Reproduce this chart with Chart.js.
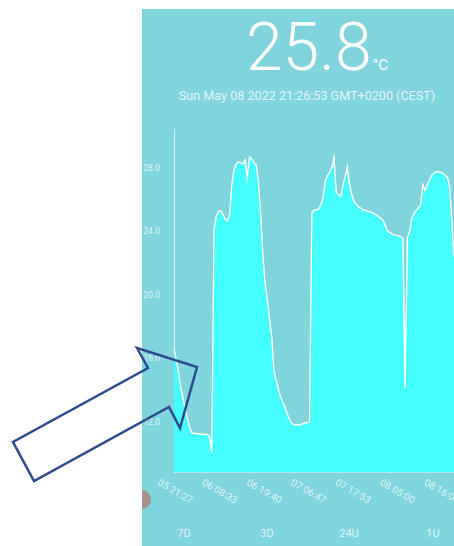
<!DOCTYPE html>
<html>
<head>
<meta charset="utf-8">
<script src="https://cdn.jsdelivr.net/npm/chart.js@4.4.0/dist/chart.umd.min.js"></script>
<style>
  html, body { margin: 0; padding: 0; width: 454px; height: 546px; overflow: hidden; background: #fff; font-family: Roboto, sans-serif; }
  #panel { position: absolute; left: 142px; top: 9px; width: 312px; height: 537px; background: #80d4dc; overflow: hidden; }
  #temp { position: absolute; left: 104px; top: 6px; font-size: 66px; line-height: 1; font-weight: 300; color: #fff; white-space: nowrap; }
  #temp small { font-size: 15px; font-weight: 400; margin-left: 1px; }
  #date { position: absolute; left: 0; width: 330px; top: 79px; text-align: center; font-size: 12.6px; color: rgba(255,255,255,0.8); white-space: nowrap; }
  #chartBox { position: absolute; left: 0; top: 101px; width: 312px; height: 410px; }
  .btn { position: absolute; top: 518px; width: 60px; margin-left: -30px; text-align: center; font-size: 11px; color: rgba(255,255,255,0.75); }
  #dot { position: absolute; left: -10px; top: 481px; width: 19px; height: 19px; border-radius: 50%; background: #a8908c; }
  #arrow { position: absolute; left: 0; top: 0; pointer-events: none; }
</style>
</head>
<body>
<div id="panel">
  <div id="temp">25.8<small>°C</small></div>
  <div id="date">Sun May 08 2022 21:26:53 GMT+0200 (CEST)</div>
  <div id="chartBox"><canvas id="tempChart" width="312" height="410"></canvas></div>
  <div class="btn" style="left:42px">7D</div>
  <div class="btn" style="left:125px">3D</div>
  <div class="btn" style="left:207px">24U</div>
  <div class="btn" style="left:291px">1U</div>
  <div id="dot"></div>
</div>
<svg id="arrow" width="454" height="546">
  <polygon points="137,348 197,367 180,428 169,407 34,481 13,442 148,368" fill="none" stroke="#2d4b8e" stroke-width="2.5" stroke-linejoin="miter"/>
</svg>
<script>
// one label every 20 readings
const tickLabels = ['05 21:27', '06 08:33', '06 19:40', '07 06:47', '07 17:53', '08 05:00', '08 16:06'];
const tickEvery = 20;

// temperature readings (°C)
const temps = [
  16.65, 15.97, 15.24, 14.29, 13.58, 12.90, 12.31, 11.73, 11.37, 11.34,
  11.32, 11.31, 11.29, 11.28, 11.27, 11.26, 11.15, 10.10, 24.20, 24.96,
  25.33, 25.36, 25.14, 24.83, 24.71, 25.08, 27.00, 27.93, 28.30, 28.43,
  28.37, 28.30, 28.55, 27.44, 28.74, 28.62, 28.37, 28.24, 27.20, 25.14,
  22.54, 20.80, 19.75, 18.50, 17.39, 15.22, 14.67, 14.10, 13.61, 13.30,
  12.93, 12.56, 12.22, 11.97, 11.88, 11.88, 11.88, 11.88, 11.94, 12.00,
  12.00, 12.06, 25.20, 25.39, 25.42, 25.45, 25.70, 26.13, 27.19, 27.56,
  27.75, 28.06, 28.70, 26.51, 26.38, 26.26, 26.94, 27.50, 28.12, 27.00,
  26.38, 25.95, 25.76, 25.61, 25.52, 25.42, 25.39, 25.33, 25.30, 25.27,
  25.18, 25.08, 24.99, 24.90, 24.77, 24.46, 24.09, 24.00, 23.90, 23.84,
  23.81, 23.78, 23.72, 23.62, 14.17, 23.66, 24.03, 24.84, 25.21, 25.36,
  25.55, 25.76, 27.00, 26.63, 27.00, 27.31, 27.59, 27.72, 27.81, 27.81,
  27.78, 27.72, 27.59, 27.47, 26.94, 24.77, 22.48
];

const labels = temps.map((t, i) => (i % tickEvery === 0 ? tickLabels[i / tickEvery] || '' : ''));

// x labels slant downwards to the right, so draw them by hand
const slantLabels = {
  id: 'slantLabels',
  afterDraw(chart) {
    const ctx = chart.ctx;
    const x = chart.scales.x;
    ctx.save();
    ctx.font = '10px Roboto';
    ctx.fillStyle = 'rgba(255,255,255,0.75)';
    ctx.textAlign = 'center';
    ctx.textBaseline = 'middle';
    chart.data.labels.forEach((lab, i) => {
      if (!lab) return;
      ctx.save();
      ctx.translate(x.getPixelForValue(i) + 1, x.top + 20);
      ctx.rotate(Math.PI / 6);
      ctx.fillText(lab, 0, 0);
      ctx.restore();
    });
    ctx.restore();
  }
};

new Chart(document.getElementById('tempChart'), {
  type: 'line',
  data: {
    labels: labels,
    datasets: [{
      data: temps,
      borderColor: '#ffffff',
      borderWidth: 1.4,
      backgroundColor: '#45ffff',
      fill: 'start',
      pointRadius: 0,
      tension: 0
    }]
  },
  options: {
    responsive: false,
    animation: false,
    layout: { padding: { top: 14, right: 0, left: 0, bottom: 0 } },
    plugins: { legend: { display: false }, tooltip: { enabled: false } },
    scales: {
      x: {
        ticks: { display: false, autoSkip: false },
        grid: { display: false, drawTicks: false },
        border: { color: 'rgba(255,255,255,0.4)' },
        afterFit(s) { s.height = 48; }
      },
      y: {
        min: 8.9,
        max: 30.5,
        ticks: {
          stepSize: 4,
          includeBounds: false,
          padding: 14,
          color: 'rgba(255,255,255,0.75)',
          font: { family: 'Roboto', size: 8.5 },
          callback: v => v.toFixed(1)
        },
        grid: { display: false, drawTicks: false },
        border: { color: 'rgba(255,255,255,0.65)' },
        afterFit(s) { s.width = 32; }
      }
    }
  },
  plugins: [slantLabels]
});
</script>
</body>
</html>
